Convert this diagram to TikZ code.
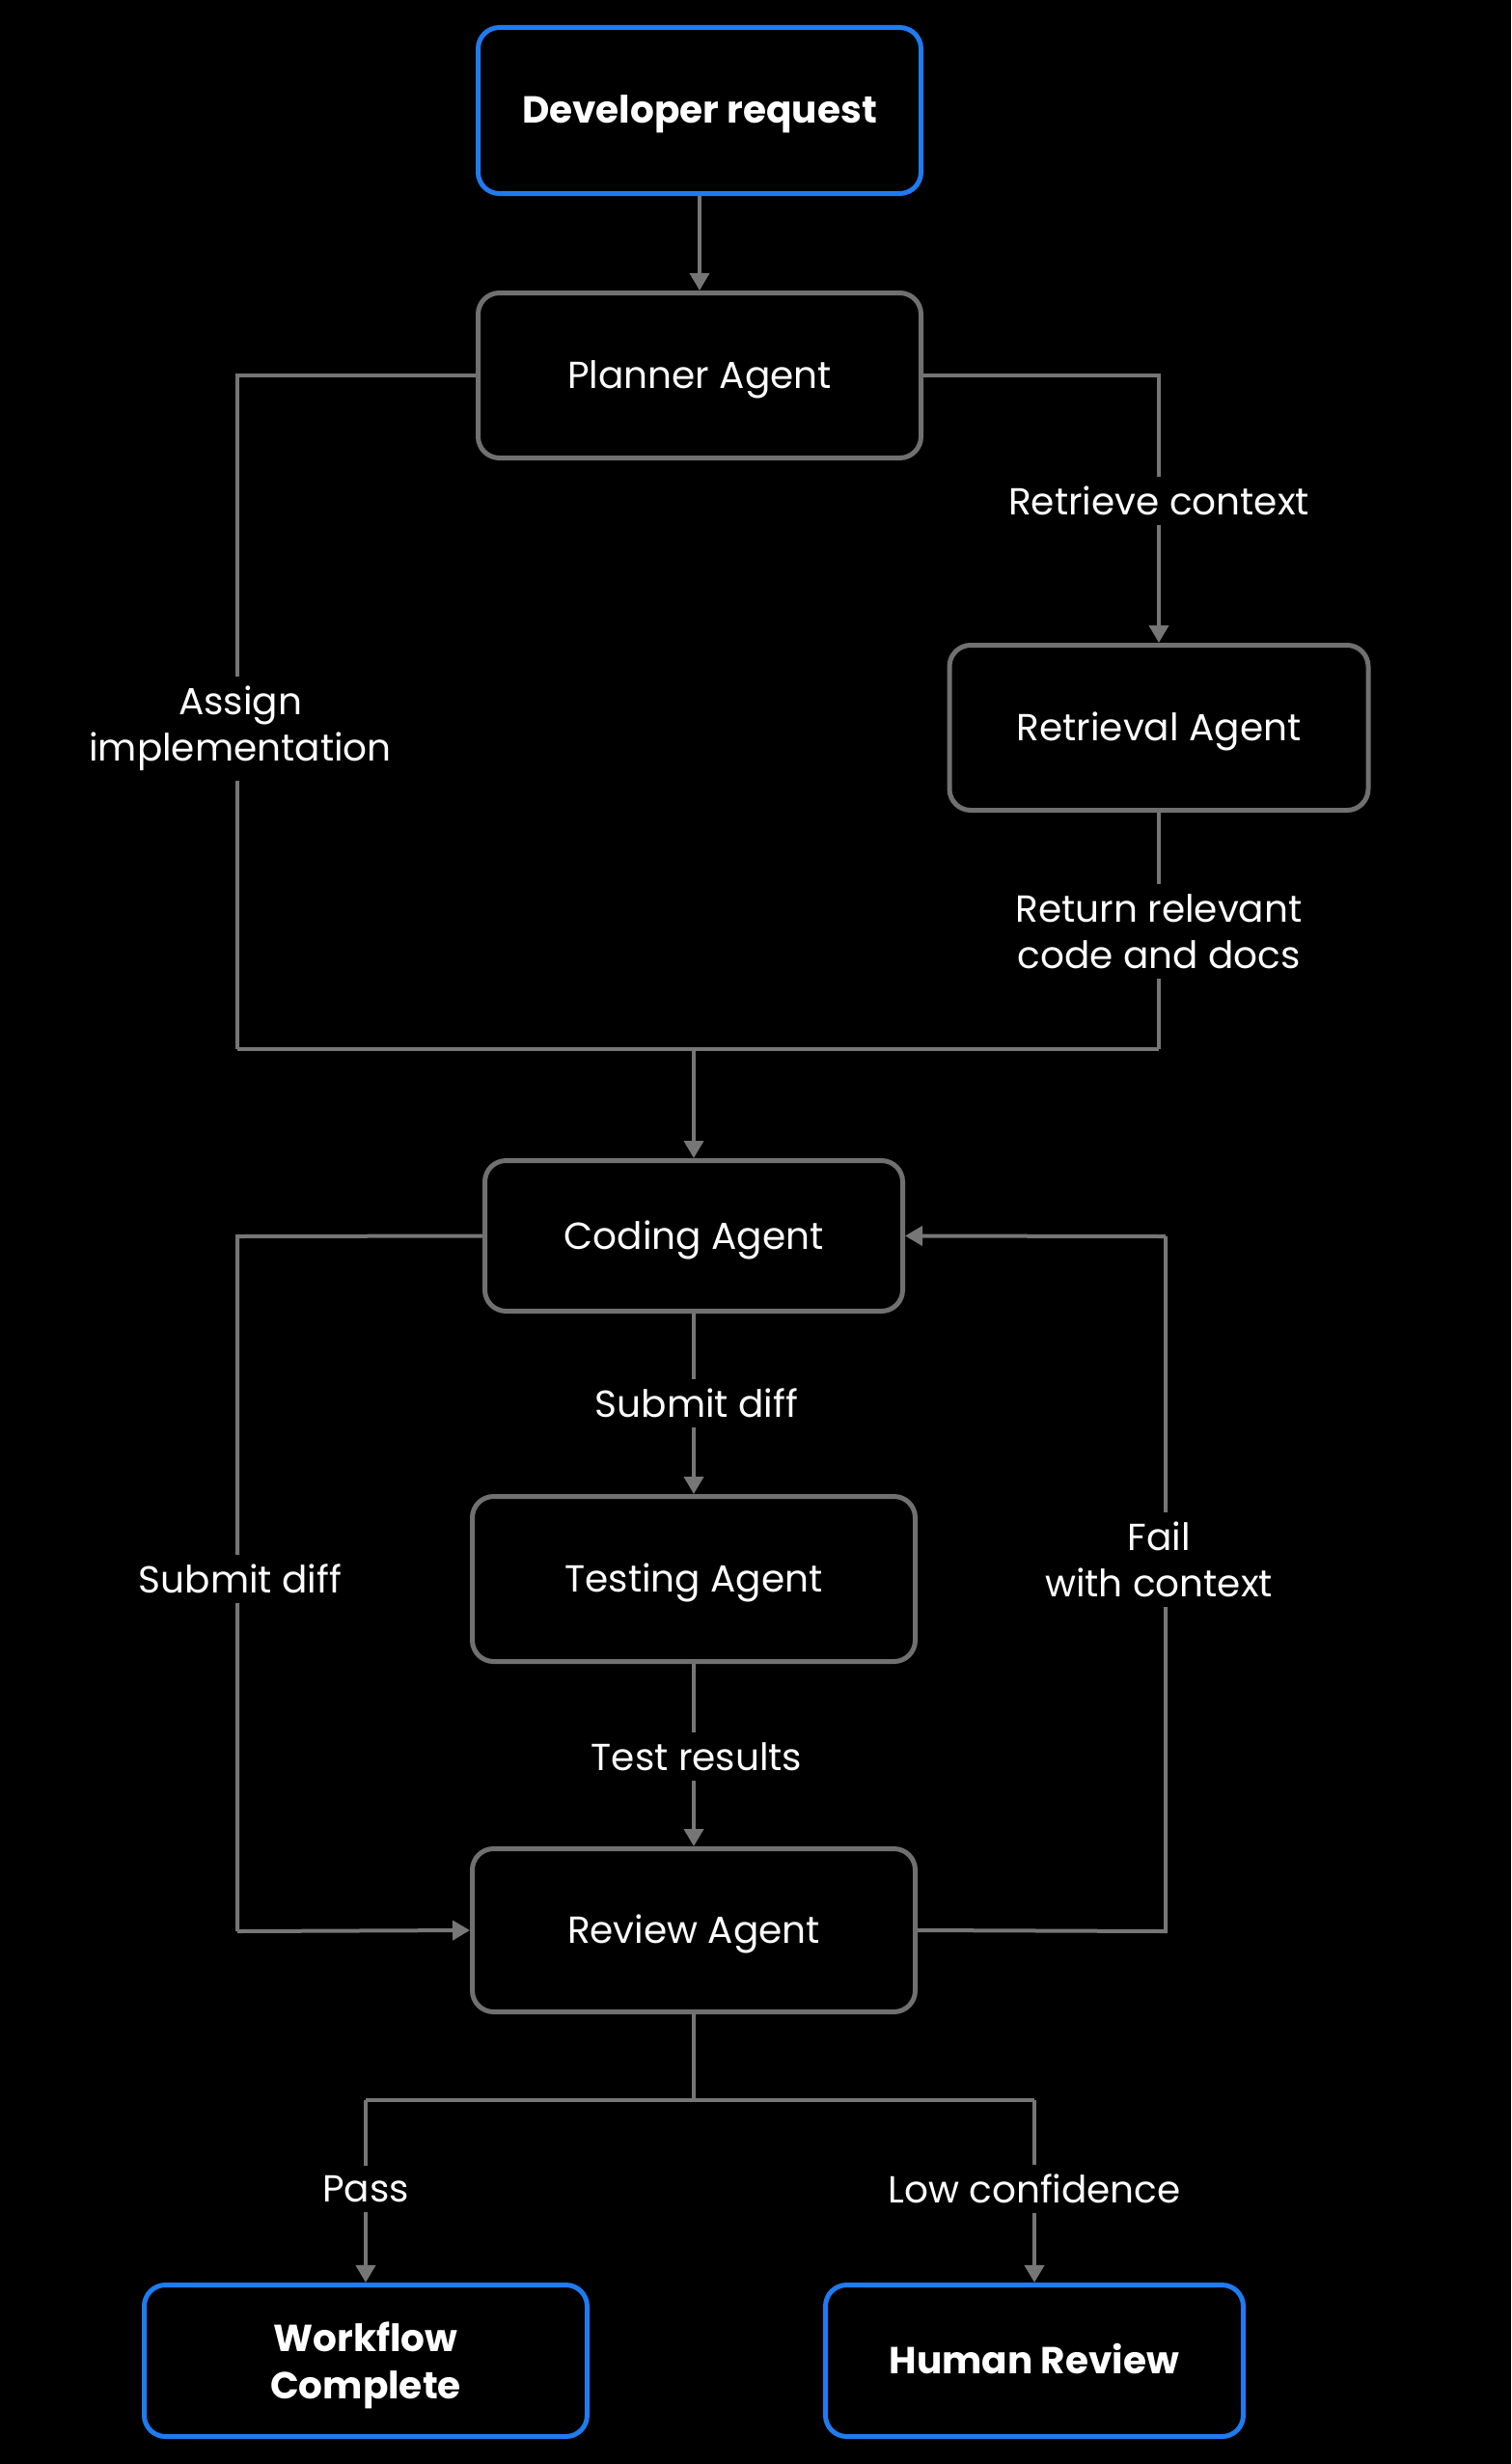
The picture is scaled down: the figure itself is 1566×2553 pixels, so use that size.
\documentclass[tikz,border=0pt]{standalone}
\usepackage{fontspec}
\setmainfont{Poppins}
\usetikzlibrary{arrows.meta}
\definecolor{bluec}{HTML}{1E7BF0}
\definecolor{linec}{HTML}{767676}
\definecolor{boxc}{HTML}{707070}
\tikzset{
  x=1pt, y=1pt,
  box/.style={draw=boxc, line width=5pt, rounded corners=22pt, fill=black,
    text=white, align=center, font=\fontsize{39}{49}\selectfont},
  termbox/.style={box, draw=bluec, font=\fontsize{39}{49}\selectfont\bfseries},
  oneline/.style={text height=27pt, text depth=0pt},
  conn/.style={draw=linec, line width=4pt},
  arr/.style={conn, -{Triangle[length=18pt,width=20pt]}},
  lbl/.style={fill=black, text=white, align=center, inner sep=10pt,
    font=\fontsize{39}{48}\selectfont},
}
\begin{document}
\begin{tikzpicture}
\useasboundingbox[fill=black] (0,0) rectangle (1566,-2553);
% nodes
\node[termbox, oneline, minimum width=459pt, minimum height=172pt] (dev) at (725,-114.5) {Developer request};
\node[box, oneline, minimum width=459pt, minimum height=171pt] (planner) at (725,-389) {Planner Agent};
\node[box, oneline, minimum width=434pt, minimum height=171pt] (retrieval) at (1201,-754) {Retrieval Agent};
\node[box, oneline, minimum width=433pt, minimum height=156pt] (coding) at (719,-1280.5) {Coding Agent};
\node[box, oneline, minimum width=459pt, minimum height=171pt] (testing) at (719,-1636) {Testing Agent};
\node[box, oneline, minimum width=459pt, minimum height=169pt] (review) at (719,-2000) {Review Agent};
\node[termbox, text depth=0pt, minimum width=459pt, minimum height=157pt] (done) at (379,-2446) {Workflow\\Complete};
\node[termbox, oneline, minimum width=433pt, minimum height=157pt] (human) at (1072,-2446) {Human Review};
% coordinates
\coordinate (jl) at (246,-1087);
\coordinate (jr) at (1201,-1087);
\coordinate (jc) at (719,-1087);
\coordinate (cl) at (246,-1281);
\coordinate (rl) at (246,-2001);
\coordinate (rr) at (1208,-2001);
\coordinate (cr) at (1208,-1281);
\coordinate (bj) at (719,-2176);
\coordinate (bl) at (379,-2176);
\coordinate (br) at (1072,-2176);
% connectors
\draw[arr] (dev.south) -- (planner.north);
\draw[arr] (planner.east) -| (retrieval.north);
\draw[conn] (planner.west) -| (jl);
\draw[conn] (retrieval.south) -- (jr);
\draw[conn] (jl) -- (jr);
\draw[arr] (jc) -- (coding.north);
\draw[arr] (coding.south) -- (testing.north);
\draw[arr] (testing.south) -- (review.north);
\draw[conn] (coding.west) -- (cl) -- (rl);
\draw[arr] (rl) -- (review.west);
\draw[conn] (review.east) -- (rr) -- (cr);
\draw[arr] (cr) -- (coding.east);
\draw[conn] (review.south) -- (bj);
\draw[conn] (bl) -- (br);
\draw[arr] (bl) -- (done.north);
\draw[arr] (br) -- (human.north);
% labels
\node[lbl] (l1) at (1201,-519) {Retrieve context};
\node[lbl] (l2) at (249,-755) {Assign\\implementation};
\node[lbl] (l3) at (1201,-965) {Return relevant\\code and docs};
\node[lbl] (l4) at (722,-1454) {Submit diff};
\node[lbl] (l5) at (249,-1636) {Submit diff};
\node[lbl] (l6) at (1201,-1616) {Fail\\with context};
\node[lbl] (l7) at (722,-1820) {Test results};
\node[lbl] (l8) at (379,-2268) {Pass};
\node[lbl] (l9) at (1072,-2268) {Low confidence};
\end{tikzpicture}
\end{document}
